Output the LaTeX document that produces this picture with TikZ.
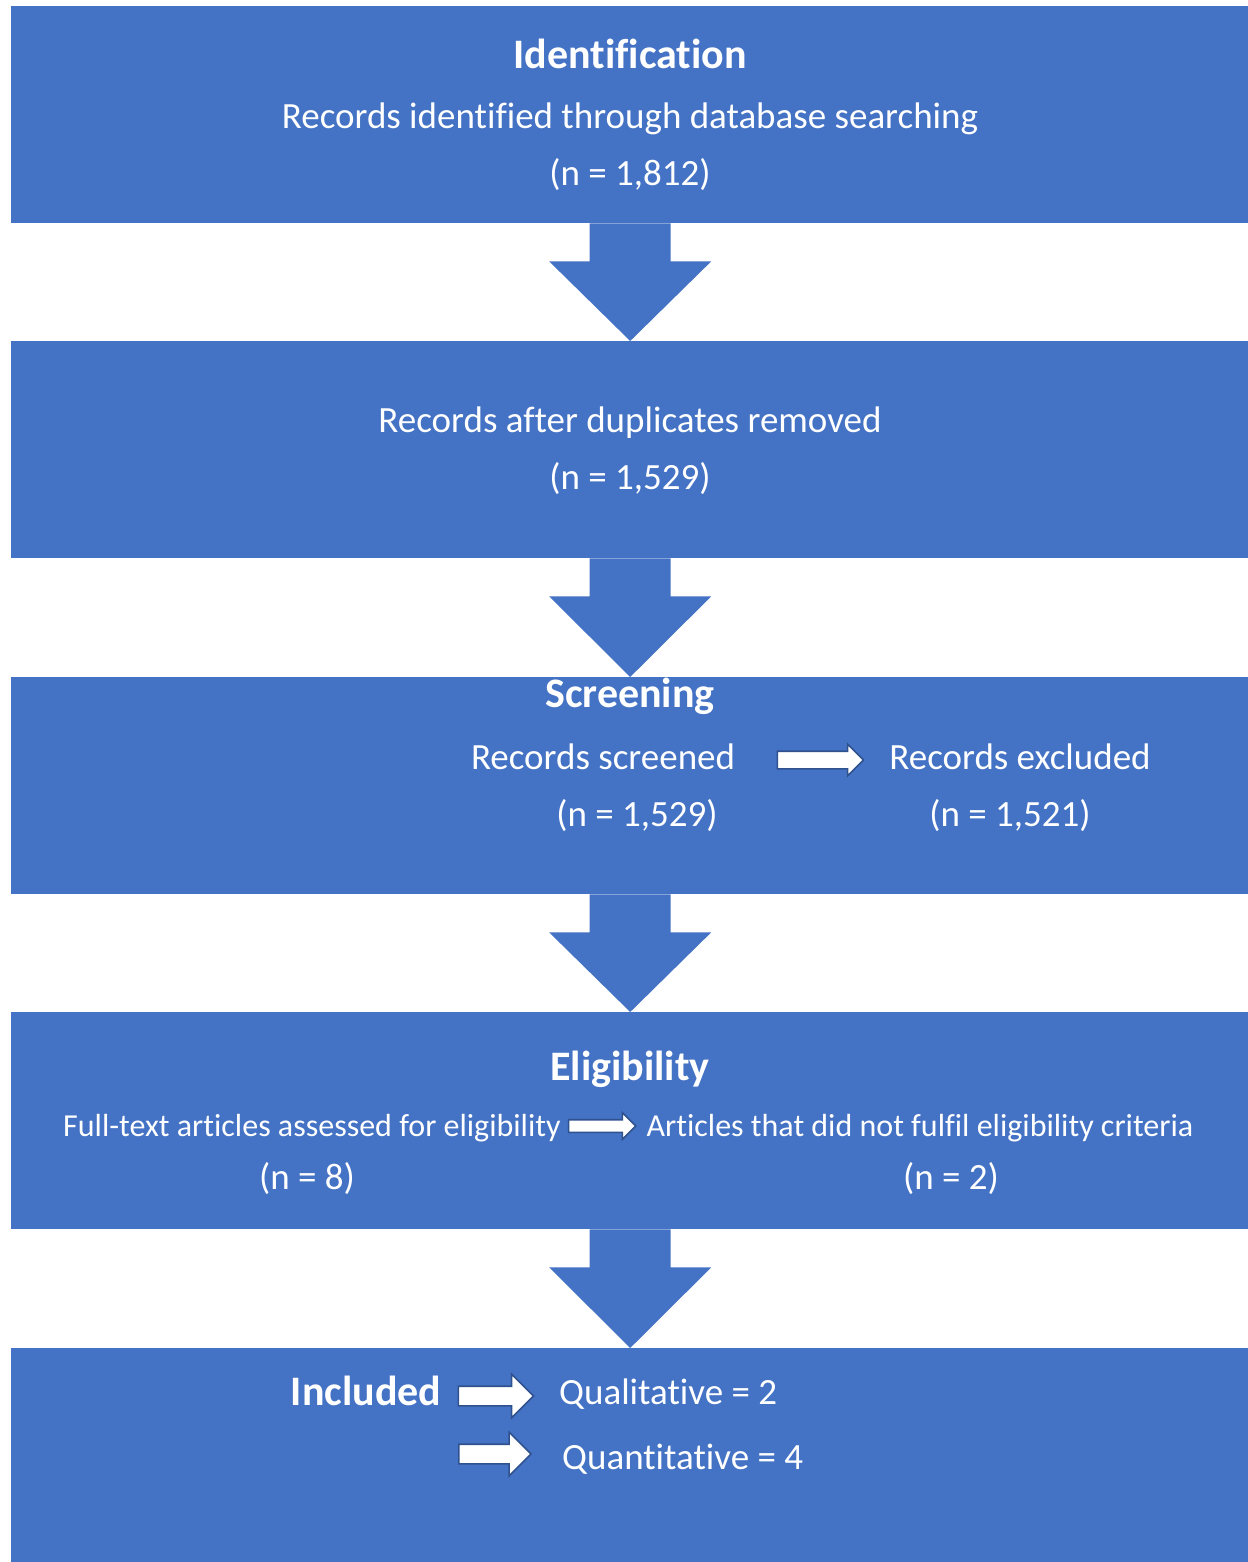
\documentclass[tikz,border=0pt]{standalone}
\usepackage{fontspec}
\setmainfont{Carlito}[Ligatures=NoCommon]
\usetikzlibrary{arrows.meta, positioning, calc, shapes.arrows}
\definecolor{stage}{HTML}{4472C4}
\definecolor{stageedge}{HTML}{2F528F}
\tikzset{
  font=\fontsize{37}{44}\selectfont,
  %
  stagebox/.style={fill=stage, draw=none, inner sep=0pt, anchor=north west,
                   minimum width=1238pt, minimum height=217pt},
  %
  heading/.style={text=white, inner sep=0pt, anchor=base,
                  font=\fontsize{42}{50}\selectfont\bfseries},
  body/.style={text=white, inner sep=0pt, anchor=base},
  bodysmall/.style={body, font=\fontsize{32}{38}\selectfont},
  %
  pointer/.style={shape=single arrow, draw=stageedge, fill=white,
                  line width=1.6pt, inner xsep=0pt, single arrow tip angle=90},
}
% big arrow from one stage box down to the next
\newcommand{\stagearrow}[2]{%
  \fill[stage] ($(#1.south)+(-40.5,0)$) -- ++(0,38) -- ++(-40.5,0)
    -- (#2.north) -- ($(#1.south)+(81,38)$) -- ++(-40.5,0) -- ++(0,-38) -- cycle;
}

\begin{document}
\begin{tikzpicture}[x=1pt, y=-1pt]

  \useasboundingbox (0,0) rectangle (1247,1562);

  % stage boxes
  \node[stagebox] (ident)  at (11,6)    {};
  \node[stagebox] (dedup)  at (11,341)  {};
  \node[stagebox] (screen) at (11,677)  {};
  \node[stagebox] (elig)   at (11,1012) {};
  \node[stagebox] (incl)   at (11,1348) {};

  \stagearrow{ident}{dedup}
  \stagearrow{dedup}{screen}
  \stagearrow{screen}{elig}
  \stagearrow{elig}{incl}

  % identification
  \node[heading] (identhd) at (630,69)  {Identification};
  \node[body]    (identtx) at (630,129) {Records identified through database searching};
  \node[body]    (identn)  at (630,186) {(n = 1,812)};

  % duplicates
  \node[body] (deduptx) at (630,432) {Records after duplicates removed};
  \node[body] (dedupn)  at (630,489) {(n = 1,529)};

  % screening
  \node[heading] (screenhd) at (630,707)  {Screening};
  \node[body]    (screentx) at (603,769)  {Records screened};
  \node[body]    (screenn)  at (637,826)  {(n = 1,529)};
  \node[body]    (excltx)   at (1020,769) {Records excluded};
  \node[body]    (excln)    at (1010,826) {(n = 1,521)};
  \node[pointer, minimum height=86pt, inner ysep=8pt,
        single arrow head extend=7pt] (screenarr) at (816,760) {};

  % eligibility
  \node[heading]   (elighd)  at (630,1080) {Eligibility};
  \node[bodysmall] (fulltx)  at (312,1136) {Full-text articles assessed for eligibility};
  \node[body]      (fulln)   at (307,1189) {(n = 8)};
  \node[bodysmall] (failtx)  at (920,1136) {Articles that did not fulfil eligibility criteria};
  \node[body]      (failn)   at (951,1189) {(n = 2)};
  \node[pointer, minimum height=67pt, inner ysep=5.5pt,
        single arrow head extend=7pt] (eligarr) at (599,1126) {};

  % included
  \node[heading] (inclhd) at (366,1405) {Included};
  \node[pointer, minimum height=75pt, inner ysep=9pt,
        single arrow head extend=12pt] (qualarr) at (491,1396) {};
  \node[pointer, minimum height=72pt, inner ysep=9pt,
        single arrow head extend=12pt] (quanarr) at (490,1454) {};
  \node[body, anchor=base west] (qualtx) at (559,1404) {Qualitative = 2};
  \node[body, anchor=base west] (quantx) at (562,1469) {Quantitative = 4};

\end{tikzpicture}
\end{document}
